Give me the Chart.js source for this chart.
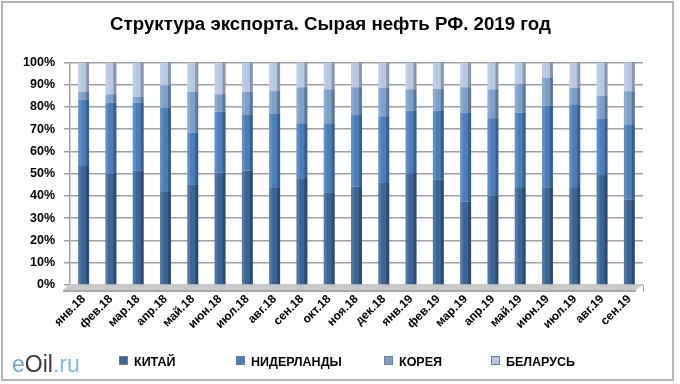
<!DOCTYPE html>
<html>
<head>
<meta charset="utf-8">
<script src="https://cdn.jsdelivr.net/npm/chart.js@4.4.1/dist/chart.umd.min.js"></script>
<style>
  html, body { margin: 0; padding: 0; background: #fff; }
  #wrap { position: relative; width: 680px; height: 384px; }
  #frame { position: absolute; left: 1px; top: 1px; width: 673px; height: 380px; border: 2px solid #b5b5b5; box-sizing: border-box; }
  canvas { position: absolute; left: 0; top: 0; }
  #logo { position: absolute; left: 12px; top: 353px; line-height: 1; font-family: Arial, "Liberation Sans", sans-serif; font-size: 23px; }
  #logo .e { color: #6ea7d8; }
  #logo .oil { color: #3a3a3a; }
  #logo .ru { color: #86b8e2; }
  .lg { position: absolute; top: 354px; font-family: Arial, "Liberation Sans", sans-serif; font-size: 12.5px; font-weight: bold; color: #000; line-height: 16px; white-space: nowrap; }
  .lg i { display: inline-block; width: 7px; height: 7px; border: 1px solid #6a7f99; margin-right: 6px; vertical-align: 1px; }
</style>
</head>
<body>
<div id="wrap">
  <div id="frame"></div>
  <canvas id="chart" width="680" height="384"></canvas>
  <div id="logo"><span class="e">e</span><span class="oil">Oil</span><span class="ru">.ru</span></div>
  <div id="legend"></div>
</div>
<script>
// months
const months = ['янв.18', 'фев.18', 'мар.18', 'апр.18', 'май.18', 'июн.18', 'июл.18', 'авг.18', 'сен.18',
  'окт.18', 'ноя.18', 'дек.18', 'янв.19', 'фев.19', 'мар.19', 'апр.19', 'май.19', 'июн.19', 'июл.19',
  'авг.19', 'сен.19'];

// shares of export, %
const china =       [53.5, 50.0, 51.4, 41.8, 45.3, 50.5, 51.4, 43.6, 48.0, 41.7, 44.3, 46.2, 50.2, 47.3, 37.4, 40.2, 43.6, 43.9, 43.6, 49.8, 38.4];
const netherlands = [29.7, 32.0, 30.5, 38.0, 23.1, 27.3, 25.0, 33.2, 24.7, 31.0, 32.1, 29.6, 28.1, 31.0, 40.1, 34.7, 33.9, 36.6, 37.6, 24.8, 33.5];
const korea =       [ 3.5,  3.7,  2.7, 10.0, 18.3,  7.9, 10.3, 10.6, 16.2, 15.2, 12.5, 12.8,  9.6,  9.9, 11.4, 13.0, 13.0, 12.5,  7.4, 10.3, 15.2];
const belarus =     [13.3, 14.3, 15.4, 10.2, 13.3, 14.3, 13.3, 12.6, 11.1, 12.1, 11.1, 11.4, 12.1, 11.8, 11.1, 12.1,  9.5,  7.0, 11.4, 15.1, 12.9];

const yTicks = [0, 10, 20, 30, 40, 50, 60, 70, 80, 90, 100];

const seriesNames = ['КИТАЙ', 'НИДЕРЛАНДЫ', 'КОРЕЯ', 'БЕЛАРУСЬ'];
const seriesColors = ['#3b6497', '#4a7ebb', '#7d9fcc', '#b7c8e3'];

// legend below the chart
const legendX = [119, 236, 384, 491];
document.getElementById('legend').innerHTML = seriesNames.map((n, i) =>
  '<div class="lg" style="left:' + legendX[i] + 'px"><i style="background:' + seriesColors[i] + '"></i>' + n + '</div>'
).join('');

// floor + right-side shading for a bit of the 3D look
const depthPlugin = {
  id: 'depth',
  beforeDatasetsDraw(chart) {
    const { ctx, chartArea } = chart;
    const y0 = chart.scales.y.getPixelForValue(0);
    ctx.save();
    ctx.fillStyle = '#c8c8c8';
    ctx.beginPath();
    ctx.moveTo(chartArea.left - 7, y0 + 5);
    ctx.lineTo(chartArea.right - 7, y0 + 5);
    ctx.lineTo(chartArea.right, y0 - 1);
    ctx.lineTo(chartArea.left, y0 - 1);
    ctx.closePath();
    ctx.fill();
    ctx.fillStyle = '#a8a8a8';
    ctx.fillRect(chartArea.left - 7, y0 + 5, chartArea.right - chartArea.left, 2);
    ctx.restore();
  },
  afterDatasetsDraw(chart) {
    const { ctx } = chart;
    ctx.save();
    chart.data.datasets.forEach((ds, i) => {
      const meta = chart.getDatasetMeta(i);
      meta.data.forEach(bar => {
        const w = bar.width;
        const top = Math.min(bar.y, bar.base);
        const h = Math.abs(bar.base - bar.y);
        ctx.fillStyle = 'rgba(0,0,0,0.25)';
        ctx.fillRect(bar.x + w / 2 - 3, top, 3, h);
        ctx.fillStyle = 'rgba(255,255,255,0.12)';
        ctx.fillRect(bar.x - w / 2, top, 3, h);
      });
    });
    ctx.restore();
  }
};

new Chart(document.getElementById('chart'), {
  type: 'bar',
  data: {
    labels: months,
    datasets: [china, netherlands, korea, belarus].map((vals, i) => ({
      label: seriesNames[i],
      data: vals,
      backgroundColor: seriesColors[i],
      borderWidth: 0,
      barPercentage: 0.8,
      categoryPercentage: 0.5
    }))
  },
  options: {
    responsive: false,
    animation: false,
    layout: { padding: { left: 18, right: 37, top: 4, bottom: 0 } },
    plugins: {
      title: {
        display: true,
        text: 'Структура экспорта. Сырая нефть РФ. 2019 год',
        color: '#000',
        font: { family: 'Arial, "Liberation Sans", sans-serif', size: 18.7, weight: 'bold' },
        padding: { top: 10, bottom: 26 }
      },
      legend: { display: false },
      tooltip: { enabled: false }
    },
    scales: {
      x: {
        stacked: true,
        afterFit(axis) { axis.height = 99; },
        grid: { display: true, drawOnChartArea: false, color: '#a0a0a0', tickLength: 7 },
        border: { display: false },
        ticks: {
          color: '#000',
          maxRotation: 45,
          minRotation: 45,
          padding: 0,
          font: { family: 'Arial, "Liberation Sans", sans-serif', size: 12, weight: 'bold' }
        }
      },
      y: {
        stacked: true,
        min: 0,
        max: 100,
        afterFit(axis) { axis.width = 52; },
        afterBuildTicks(axis) { axis.ticks = yTicks.map(v => ({ value: v })); },
        grid: { color: '#a0a0a0', lineWidth: 1.5, tickLength: 6 },
        border: { color: '#a0a0a0', width: 1.5 },
        ticks: {
          color: '#000',
          padding: 9,
          callback: v => v + '%',
          font: { family: 'Arial, "Liberation Sans", sans-serif', size: 12.5, weight: 'bold' }
        }
      }
    }
  },
  plugins: [depthPlugin]
});
</script>
</body>
</html>
